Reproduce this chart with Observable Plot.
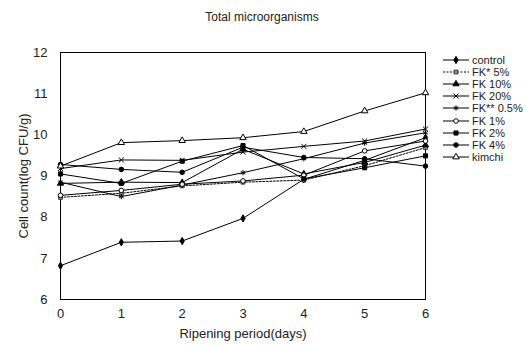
<!DOCTYPE html>
<html><head><meta charset="utf-8">
<script src="https://cdn.jsdelivr.net/npm/d3@7"></script>
<script src="https://cdn.jsdelivr.net/npm/@observablehq/plot@0.6"></script>
<style>
body{margin:0;background:#fff;font-family:"Liberation Sans",Arial,sans-serif;}
#wrap{position:relative;width:527px;height:347px;overflow:hidden;}
#title{position:absolute;left:0;width:524px;top:10px;text-align:center;font-size:12px;color:#222;}
#legend{position:absolute;left:443px;top:54px;font-size:11px;color:#222;}
#legend .row{height:12.1px;line-height:12px;display:flex;align-items:center;white-space:nowrap;}
#legend svg{margin-right:2px;}
</style>
</head><body>
<div id="wrap"><div id="title">Total microorganisms</div><div id="legend"></div></div>
<script>
const days = [0, 1, 2, 3, 4, 5, 6];
const yTicks = [6, 7, 8, 9, 10, 11, 12];
const seriesNames = ["control", "FK* 5%", "FK 10%", "FK 20%", "FK** 0.5%", "FK 1%", "FK 2%", "FK 4%", "kimchi"];
const control  = [6.82, 7.39, 7.42, 7.97, 8.92, 9.38, 9.93];
const fk5star  = [8.48, 8.58, 8.76, 8.85, 8.90, 9.25, 9.69];
const fk10     = [8.82, 8.85, 8.84, 9.65, 9.05, 9.33, 9.75];
const fk20     = [9.18, 9.39, 9.38, 9.58, 9.72, 9.85, 10.14];
const fk05     = [8.85, 8.50, 8.78, 9.08, 9.42, 9.80, 10.05];
const fk1      = [8.53, 8.65, 8.80, 8.88, 9.02, 9.61, 9.85];
const fk2      = [9.05, 8.82, 9.36, 9.74, 8.93, 9.20, 9.49];
const fk4      = [9.28, 9.16, 9.09, 9.70, 9.45, 9.42, 9.24];
const kimchi   = [9.24, 9.81, 9.86, 9.93, 10.08, 10.58, 11.02];
const seriesValues = [control, fk5star, fk10, fk20, fk05, fk1, fk2, fk4, kimchi];

const styles = [
  {symbol: "diamond", fill: "black", stroke: "black", r: 2.2},
  {symbol: "square", fill: "#888", stroke: "#444", r: 2.2, dash: "2,1.5"},
  {symbol: "triangle", fill: "black", stroke: "black", r: 2.3},
  {symbol: "times", fill: "none", stroke: "black", r: 2.4},
  {symbol: "asterisk", fill: "none", stroke: "black", r: 2.5},
  {symbol: "circle", fill: "white", stroke: "black", r: 2.3},
  {symbol: "square", fill: "black", stroke: "black", r: 2.3},
  {symbol: "circle", fill: "black", stroke: "black", r: 2.3},
  {symbol: "triangle", fill: "white", stroke: "black", r: 2.4}
];

const rows = [];
seriesNames.forEach((name, i) => days.forEach((d, j) => rows.push({series: name, day: d, value: seriesValues[i][j]})));

const marks = [Plot.frame({stroke: "black", strokeWidth: 1})];
seriesNames.forEach((name, i) => {
  const s = styles[i];
  const data = rows.filter(r => r.series === name);
  marks.push(Plot.line(data, {x: "day", y: "value", stroke: "black", strokeWidth: 1, strokeDasharray: s.dash}));
});
seriesNames.forEach((name, i) => {
  const s = styles[i];
  const data = rows.filter(r => r.series === name);
  marks.push(Plot.dot(data, {x: "day", y: "value", symbol: () => s.symbol, fill: s.fill, stroke: s.stroke, strokeWidth: 1, r: s.r}));
});
marks.push(Plot.axisY({ticks: yTicks, tickFormat: d3.format("d"), tickSize: 0, tickPadding: 13, fontSize: 13, label: "Cell count(log CFU/g)", labelAnchor: "center", labelOffset: 42, labelArrow: "none"}));
marks.push(Plot.axisX({ticks: days, tickFormat: d3.format("d"), tickSize: 0, tickPadding: 9, fontSize: 13, label: "Ripening period(days)", labelAnchor: "center", labelOffset: 38, labelArrow: "none"}));

const chart = Plot.plot({
  width: 527, height: 347,
  marginLeft: 60, marginRight: 102, marginTop: 52, marginBottom: 48,
  x: {domain: [0, 6]},
  y: {domain: [6, 12]},
  symbol: {type: "identity"},
  style: {fontFamily: "Liberation Sans, Arial, sans-serif", fontSize: "13px", color: "#222", background: "white"},
  marks
});
chart.style.position = "absolute";
chart.style.left = "0"; chart.style.top = "0";
document.getElementById("wrap").prepend(chart);

// legend
const symMap = {diamond: d3.symbolDiamond, square: d3.symbolSquare, triangle: d3.symbolTriangle,
  times: d3.symbolTimes || d3.symbolX, asterisk: d3.symbolAsterisk, circle: d3.symbolCircle};
const leg = d3.select("#legend");
seriesNames.forEach((name, i) => {
  const s = styles[i];
  const row = leg.append("div").attr("class", "row");
  const svg = row.append("svg").attr("width", 27).attr("height", 12);
  svg.append("line").attr("x1", 0).attr("x2", 26).attr("y1", 6).attr("y2", 6)
    .attr("stroke", "black").attr("stroke-width", 1).attr("stroke-dasharray", s.dash || null);
  svg.append("path").attr("transform", "translate(13,6)")
    .attr("d", d3.symbol(symMap[s.symbol], Math.PI * s.r * s.r)())
    .attr("fill", s.fill).attr("stroke", s.stroke).attr("stroke-width", 1);
  row.append("span").text(name);
});
</script>
</body></html>
